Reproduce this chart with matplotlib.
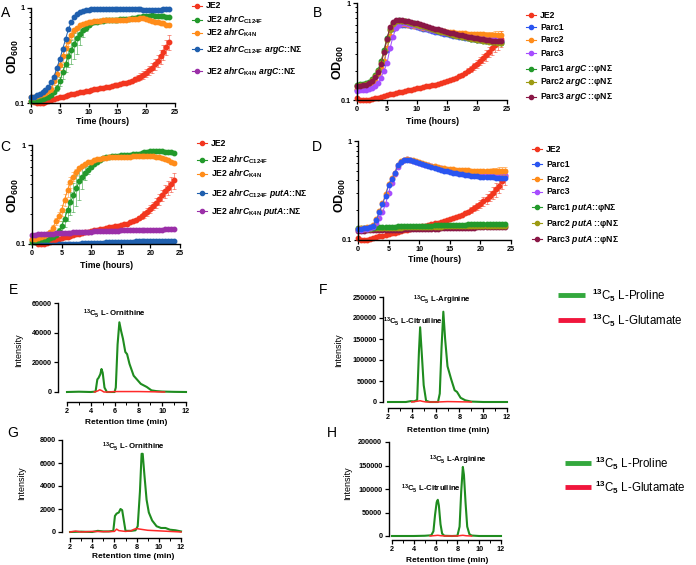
import numpy as np
import matplotlib
matplotlib.use("Agg")
import matplotlib.pyplot as plt
from matplotlib.lines import Line2D

plt.rcParams['font.family'] = ['Liberation Sans', 'DejaVu Sans']
plt.rcParams['font.weight'] = 'bold'
plt.rcParams['mathtext.fontset'] = 'custom'
plt.rcParams['mathtext.rm'] = 'Liberation Sans'
plt.rcParams['mathtext.it'] = 'Liberation Sans:italic'
plt.rcParams['mathtext.bf'] = 'Liberation Sans:bold'
plt.rcParams['mathtext.bfit'] = 'Liberation Sans:italic:bold'

# ---- growth curves (OD600, every 0.5 h) ----
t = np.arange(0, 24.5, 0.5)

je2_a = [0.105, 0.102, 0.100, 0.100, 0.101, 0.103, 0.105, 0.107, 0.110, 0.112,
         0.115, 0.117, 0.119, 0.121, 0.123, 0.125, 0.127, 0.129, 0.131, 0.133,
         0.135, 0.137, 0.139, 0.141, 0.143, 0.145, 0.147, 0.149, 0.151, 0.153,
         0.155, 0.158, 0.161, 0.164, 0.168, 0.172, 0.177, 0.183, 0.190, 0.198,
         0.208, 0.220, 0.235, 0.255, 0.280, 0.310, 0.345, 0.390, 0.440]
c124f_a = [0.105, 0.105, 0.106, 0.108, 0.110, 0.113, 0.117, 0.122, 0.130, 0.145,
           0.170, 0.210, 0.260, 0.310, 0.360, 0.420, 0.480, 0.530, 0.580, 0.620,
           0.660, 0.690, 0.710, 0.720, 0.730, 0.735, 0.740, 0.745, 0.750, 0.750,
           0.755, 0.760, 0.765, 0.770, 0.775, 0.780, 0.790, 0.800, 0.810, 0.820,
           0.830, 0.830, 0.835, 0.830, 0.830, 0.825, 0.820, 0.810, 0.800]
k4n_a = [0.115, 0.116, 0.118, 0.120, 0.123, 0.127, 0.133, 0.142, 0.170, 0.200,
         0.250, 0.310, 0.380, 0.450, 0.520, 0.580, 0.620, 0.660, 0.680, 0.700,
         0.710, 0.715, 0.725, 0.730, 0.735, 0.740, 0.740, 0.745, 0.745, 0.745,
         0.750, 0.750, 0.755, 0.755, 0.760, 0.765, 0.770, 0.775, 0.780, 0.780,
         0.770, 0.750, 0.730, 0.720, 0.710, 0.700, 0.690, 0.670, 0.660]
argc_c124f_a = [0.115, 0.117, 0.120, 0.124, 0.130, 0.137, 0.148, 0.165, 0.190, 0.235,
                0.290, 0.370, 0.470, 0.600, 0.710, 0.800, 0.860, 0.900, 0.930, 0.950,
                0.960, 0.965, 0.970, 0.970, 0.975, 0.975, 0.980, 0.980, 0.980, 0.980,
                0.980, 0.980, 0.975, 0.975, 0.970, 0.970, 0.970, 0.965, 0.965, 0.960,
                0.960, 0.960, 0.955, 0.955, 0.960, 0.960, 0.965, 0.970, 0.975]

je2_b = [0.105, 0.100, 0.099, 0.100, 0.101, 0.102, 0.104, 0.106, 0.108, 0.110,
         0.112, 0.114, 0.116, 0.118, 0.120, 0.122, 0.124, 0.126, 0.128, 0.130,
         0.132, 0.134, 0.136, 0.138, 0.140, 0.142, 0.144, 0.147, 0.150, 0.153,
         0.156, 0.160, 0.164, 0.169, 0.175, 0.182, 0.190, 0.200, 0.210, 0.222,
         0.236, 0.252, 0.270, 0.290, 0.315, 0.340, 0.370, 0.400, 0.430]
parc1_b = [0.128, 0.130, 0.132, 0.133, 0.135, 0.140, 0.155, 0.180, 0.210, 0.240,
           0.330, 0.450, 0.540, 0.580, 0.600, 0.600, 0.600, 0.595, 0.585, 0.575,
           0.565, 0.555, 0.545, 0.535, 0.525, 0.515, 0.505, 0.497, 0.489, 0.481,
           0.474, 0.467, 0.460, 0.454, 0.448, 0.442, 0.437, 0.432, 0.428, 0.424,
           0.420, 0.416, 0.413, 0.410, 0.407, 0.404, 0.402, 0.400, 0.398]
parc2_b = [0.130, 0.132, 0.134, 0.135, 0.137, 0.143, 0.158, 0.185, 0.215, 0.250,
           0.340, 0.460, 0.550, 0.590, 0.605, 0.605, 0.602, 0.597, 0.590, 0.582,
           0.574, 0.566, 0.558, 0.550, 0.543, 0.536, 0.530, 0.524, 0.518, 0.513,
           0.508, 0.503, 0.499, 0.495, 0.492, 0.489, 0.486, 0.483, 0.481, 0.479,
           0.477, 0.475, 0.474, 0.473, 0.472, 0.471, 0.470, 0.470, 0.470]
parc3_b = [0.125, 0.126, 0.127, 0.128, 0.130, 0.133, 0.140, 0.150, 0.170, 0.200,
           0.240, 0.340, 0.450, 0.550, 0.600, 0.615, 0.615, 0.610, 0.600, 0.590,
           0.580, 0.570, 0.560, 0.550, 0.540, 0.530, 0.520, 0.511, 0.502, 0.494,
           0.486, 0.478, 0.471, 0.464, 0.458, 0.452, 0.446, 0.441, 0.436, 0.432,
           0.428, 0.424, 0.421, 0.418, 0.415, 0.413, 0.411, 0.409, 0.408]
parc1_argc_b = [0.143, 0.145, 0.147, 0.149, 0.155, 0.165, 0.182, 0.205, 0.250, 0.330,
                0.440, 0.540, 0.620, 0.660, 0.665, 0.660, 0.650, 0.640, 0.628, 0.615,
                0.602, 0.590, 0.577, 0.565, 0.553, 0.541, 0.530, 0.519, 0.509, 0.499,
                0.490, 0.481, 0.472, 0.464, 0.456, 0.449, 0.442, 0.436, 0.430, 0.424,
                0.419, 0.414, 0.409, 0.405, 0.401, 0.398, 0.395, 0.392, 0.390]
parc2_argc_b = [0.140, 0.142, 0.144, 0.146, 0.151, 0.160, 0.175, 0.198, 0.240, 0.315,
                0.420, 0.525, 0.610, 0.650, 0.660, 0.655, 0.646, 0.636, 0.624, 0.611,
                0.598, 0.586, 0.573, 0.561, 0.549, 0.538, 0.527, 0.516, 0.506, 0.497,
                0.488, 0.479, 0.470, 0.462, 0.455, 0.448, 0.441, 0.435, 0.429, 0.423,
                0.418, 0.413, 0.408, 0.404, 0.400, 0.397, 0.394, 0.391, 0.389]
parc3_argc_b = [0.138, 0.140, 0.142, 0.144, 0.149, 0.158, 0.172, 0.195, 0.235, 0.310,
                0.430, 0.560, 0.640, 0.670, 0.672, 0.668, 0.660, 0.650, 0.639, 0.627,
                0.615, 0.603, 0.591, 0.579, 0.567, 0.556, 0.545, 0.534, 0.524, 0.514,
                0.505, 0.496, 0.487, 0.479, 0.471, 0.464, 0.457, 0.450, 0.444, 0.438,
                0.432, 0.427, 0.422, 0.418, 0.414, 0.410, 0.407, 0.404, 0.402]

je2_c = [0.110, 0.104, 0.100, 0.100, 0.101, 0.103, 0.105, 0.107, 0.109, 0.112,
         0.115, 0.117, 0.119, 0.121, 0.123, 0.125, 0.127, 0.129, 0.131, 0.133,
         0.135, 0.137, 0.139, 0.141, 0.143, 0.145, 0.147, 0.149, 0.151, 0.153,
         0.155, 0.158, 0.161, 0.165, 0.170, 0.176, 0.183, 0.191, 0.200, 0.212,
         0.226, 0.243, 0.262, 0.285, 0.310, 0.340, 0.370, 0.405, 0.440]
c124f_c = [0.105, 0.105, 0.106, 0.107, 0.109, 0.111, 0.114, 0.118, 0.124, 0.135,
           0.152, 0.180, 0.220, 0.265, 0.310, 0.370, 0.430, 0.480, 0.520, 0.560,
           0.600, 0.640, 0.680, 0.710, 0.740, 0.755, 0.765, 0.770, 0.775, 0.780,
           0.785, 0.790, 0.795, 0.800, 0.805, 0.810, 0.820, 0.830, 0.840, 0.850,
           0.860, 0.860, 0.865, 0.860, 0.860, 0.855, 0.850, 0.840, 0.830]
k4n_c = [0.112, 0.113, 0.115, 0.117, 0.120, 0.125, 0.132, 0.145, 0.170, 0.190,
         0.220, 0.280, 0.350, 0.420, 0.480, 0.530, 0.580, 0.620, 0.650, 0.670,
         0.680, 0.700, 0.715, 0.730, 0.740, 0.745, 0.750, 0.750, 0.755, 0.755,
         0.760, 0.760, 0.765, 0.765, 0.770, 0.770, 0.775, 0.775, 0.780, 0.780,
         0.780, 0.770, 0.760, 0.750, 0.740, 0.720, 0.700, 0.680, 0.660]
puta_c124f_c = [0.096, 0.096, 0.096, 0.097, 0.097, 0.097, 0.098, 0.098, 0.098, 0.099,
                0.100, 0.100, 0.100, 0.101, 0.101, 0.101, 0.101, 0.102, 0.102, 0.102,
                0.102, 0.103, 0.103, 0.103, 0.103, 0.104, 0.104, 0.104, 0.104, 0.104,
                0.105, 0.105, 0.105, 0.105, 0.105, 0.106, 0.106, 0.106, 0.106, 0.106,
                0.107, 0.107, 0.107, 0.107, 0.107, 0.108, 0.108, 0.108, 0.108]
puta_k4n_c = [0.124, 0.124, 0.125, 0.125, 0.126, 0.126, 0.127, 0.127, 0.128, 0.128,
              0.129, 0.129, 0.130, 0.130, 0.131, 0.131, 0.132, 0.132, 0.133, 0.133,
              0.133, 0.134, 0.134, 0.134, 0.135, 0.135, 0.135, 0.136, 0.136, 0.136,
              0.137, 0.137, 0.137, 0.138, 0.138, 0.138, 0.138, 0.139, 0.139, 0.139,
              0.139, 0.140, 0.140, 0.140, 0.140, 0.141, 0.141, 0.141, 0.141]

je2_d = [0.104, 0.101, 0.100, 0.101, 0.103, 0.105, 0.107, 0.109, 0.111, 0.113,
         0.115, 0.117, 0.119, 0.121, 0.123, 0.125, 0.127, 0.129, 0.131, 0.133,
         0.135, 0.137, 0.139, 0.141, 0.144, 0.147, 0.150, 0.153, 0.156, 0.159,
         0.162, 0.166, 0.170, 0.175, 0.180, 0.186, 0.193, 0.201, 0.210, 0.220,
         0.232, 0.246, 0.262, 0.280, 0.300, 0.325, 0.355, 0.395, 0.440]
parc1_d = [0.128, 0.130, 0.131, 0.132, 0.134, 0.140, 0.160, 0.190, 0.230, 0.280,
           0.360, 0.410, 0.470, 0.570, 0.620, 0.645, 0.650, 0.645, 0.630, 0.615,
           0.600, 0.585, 0.570, 0.555, 0.542, 0.530, 0.519, 0.509, 0.500, 0.492,
           0.485, 0.478, 0.471, 0.465, 0.459, 0.454, 0.449, 0.445, 0.441, 0.438,
           0.435, 0.433, 0.431, 0.429, 0.428, 0.427, 0.426, 0.425, 0.425]
parc2_d = [0.130, 0.132, 0.133, 0.134, 0.136, 0.142, 0.162, 0.195, 0.235, 0.290,
           0.370, 0.420, 0.480, 0.575, 0.625, 0.648, 0.652, 0.648, 0.636, 0.622,
           0.608, 0.595, 0.583, 0.572, 0.562, 0.553, 0.545, 0.538, 0.532, 0.527,
           0.522, 0.518, 0.514, 0.511, 0.508, 0.506, 0.504, 0.502, 0.501, 0.500,
           0.500, 0.500, 0.500, 0.500, 0.500, 0.500, 0.500, 0.500, 0.500]
parc3_d = [0.126, 0.127, 0.128, 0.129, 0.131, 0.136, 0.150, 0.165, 0.190, 0.230,
           0.300, 0.380, 0.460, 0.550, 0.610, 0.640, 0.655, 0.650, 0.635, 0.620,
           0.605, 0.591, 0.578, 0.566, 0.555, 0.545, 0.536, 0.528, 0.520, 0.513,
           0.506, 0.500, 0.494, 0.489, 0.484, 0.480, 0.476, 0.472, 0.469, 0.466,
           0.463, 0.461, 0.459, 0.457, 0.455, 0.454, 0.453, 0.452, 0.451]
parc1_puta_d = [0.131, 0.131, 0.132, 0.132, 0.133, 0.133, 0.134, 0.134, 0.135, 0.135,
                0.135, 0.136, 0.136, 0.137, 0.137, 0.137, 0.138, 0.138, 0.138, 0.139,
                0.139, 0.139, 0.140, 0.140, 0.140, 0.141, 0.141, 0.141, 0.142, 0.142,
                0.142, 0.142, 0.143, 0.143, 0.143, 0.143, 0.144, 0.144, 0.144, 0.144,
                0.145, 0.145, 0.145, 0.145, 0.145, 0.146, 0.146, 0.146, 0.146]
parc2_puta_d = [0.129, 0.129, 0.130, 0.130, 0.130, 0.131, 0.131, 0.131, 0.132, 0.132,
                0.132, 0.133, 0.133, 0.133, 0.133, 0.134, 0.134, 0.134, 0.134, 0.135,
                0.135, 0.135, 0.135, 0.136, 0.136, 0.136, 0.136, 0.136, 0.137, 0.137,
                0.137, 0.137, 0.137, 0.137, 0.138, 0.138, 0.138, 0.138, 0.138, 0.138,
                0.138, 0.139, 0.139, 0.139, 0.139, 0.139, 0.139, 0.139, 0.139]
parc3_puta_d = [0.124, 0.124, 0.124, 0.125, 0.125, 0.125, 0.125, 0.126, 0.126, 0.126,
                0.126, 0.127, 0.127, 0.127, 0.127, 0.128, 0.128, 0.128, 0.128, 0.129,
                0.129, 0.129, 0.129, 0.130, 0.130, 0.130, 0.130, 0.131, 0.131, 0.131,
                0.131, 0.132, 0.132, 0.132, 0.132, 0.133, 0.133, 0.133, 0.133, 0.134,
                0.134, 0.134, 0.134, 0.135, 0.135, 0.135, 0.135, 0.136, 0.136]

# error bars (SD)
je2_err = [0.0] * 34 + [0.005, 0.007, 0.010, 0.012, 0.015, 0.018, 0.020, 0.025,
                        0.030, 0.035, 0.040, 0.050, 0.060, 0.070, 0.080]
c124f_err = [0.0] * 9 + [0.010, 0.020, 0.030, 0.050, 0.070, 0.100, 0.130, 0.150,
                         0.120, 0.080, 0.050, 0.030] + [0.010] * 28
k4n_err = [0.0] * 6 + [0.005, 0.010, 0.015, 0.020, 0.030, 0.040, 0.050, 0.050,
                       0.050, 0.040, 0.030] + [0.010] * 22 + \
          [0.010, 0.020, 0.020, 0.030, 0.030, 0.030, 0.030, 0.030, 0.030, 0.030]
parc2_err = [0.0] * 40 + [0.010, 0.015, 0.020, 0.025, 0.030, 0.035, 0.040, 0.045, 0.050]

# ---- LC-MS traces ----
rt_e_pro = [2.0, 3.0, 4.0, 4.4, 4.55, 4.65, 4.8, 4.9, 5.0, 5.15, 5.35, 6.0, 6.1, 6.25,
            6.4, 6.55, 6.7, 6.9, 7.05, 7.25, 7.6, 8.2, 8.7, 9.1, 9.5, 10.0, 11.0, 12.0]
int_e_pro = [0, 200, 0, 300, 8500, 9500, 12000, 15500, 13000, 3000, 0, 0, 3000, 32000,
             47000, 41000, 36000, 27000, 25500, 19000, 11000, 5500, 3400, 1100, 600, 300, 100, 0]
rt_e_glu = [4.3, 4.6, 4.75, 4.9, 5.1, 5.5, 6.0, 8.0, 10.2]
int_e_glu = [0, 800, 1500, 1000, 0, 0, 300, 300, 0]

rt_f_pro = [2.0, 3.5, 3.9, 4.2, 4.45, 4.6, 4.7, 4.85, 5.0, 5.2, 5.5, 6.2, 6.35, 6.5,
            6.65, 6.8, 7.0, 7.3, 7.6, 7.8, 8.1, 8.5, 9.0, 10.0, 12.0]
int_f_pro = [0, 0, 2000, 1500, 5000, 120000, 178000, 110000, 40000, 3000, 0, 0, 20000,
             130000, 215000, 150000, 85000, 55000, 28000, 24000, 10000, 4000, 1000, 0, 0]
rt_f_glu = [4.0, 4.5, 4.7, 4.9, 5.2, 6.2, 7.0, 8.0, 9.0]
int_f_glu = [0, 2000, 3000, 1500, 0, 0, 1000, 500, 0]

rt_g_pro = [2.0, 3.0, 4.0, 4.5, 5.0, 5.5, 5.9, 6.05, 6.2, 6.4, 6.55, 6.7, 6.85, 7.0,
            7.5, 7.9, 8.1, 8.3, 8.45, 8.55, 8.7, 8.9, 9.1, 9.4, 9.8, 10.2, 10.6, 11.0,
            11.5, 12.0]
int_g_pro = [0, 30, 0, 100, 50, 50, 100, 1400, 1600, 1700, 2000, 1900, 1000, 100,
             100, 150, 500, 3500, 6800, 6800, 5000, 2800, 1700, 1000, 500, 350, 350, 200,
             150, 50]
rt_g_glu = [2.0, 2.5, 3.0, 4.0, 5.0, 6.0, 6.2, 6.4, 7.0, 7.5, 7.8, 8.0, 8.3, 9.0,
            10.0, 11.0, 12.0]
int_g_glu = [0, 80, 0, 50, 30, 50, 250, 120, 50, 100, 250, 300, 250, 150, 100, 50, 0]

rt_h_pro = [2.0, 4.0, 5.0, 5.6, 5.8, 5.95, 6.1, 6.2, 6.3, 6.45, 6.6, 6.8, 7.5, 8.0,
            8.2, 8.35, 8.5, 8.6, 8.75, 8.9, 9.1, 9.3, 10.0, 12.0]
int_h_pro = [0, 0, 500, 1500, 10000, 45000, 72000, 77000, 65000, 25000, 5000, 500, 0,
             500, 20000, 95000, 147000, 130000, 70000, 20000, 4000, 1000, 0, 0]
rt_h_glu = [5.5, 6.0, 6.2, 6.5, 7.0, 8.0, 8.3, 8.5, 8.8, 9.3]
int_h_glu = [0, 1000, 1500, 500, 0, 0, 1000, 1500, 500, 0]

# colours
RED = '#f2361f'
GREEN = '#23992b'
ORANGE = '#ff8c1a'
DBLUE = '#1f5fae'
PURPLE = '#9b2fa8'
BLUE = '#2a55f0'
VIOLET = '#a64dff'
OLIVE = '#9c9a12'
MAROON = '#8a1746'

W, H = 696, 565
fig = plt.figure(figsize=(W / 100, H / 100), dpi=100)


def fxy(x, y):
    return x / W, 1 - y / H


def axes_px(l, t_, r, b):
    return fig.add_axes([l / W, 1 - b / H, (r - l) / W, (b - t_) / H])


def style(ax, size):
    for s in ['top', 'right']:
        ax.spines[s].set_visible(False)
    for s in ['left', 'bottom']:
        ax.spines[s].set_linewidth(1.0)
    ax.tick_params(which='major', length=3, width=0.9, labelsize=size, pad=1.5)
    ax.tick_params(which='minor', length=1.8, width=0.7)


def growth(ax, series):
    for y, err, color, clip in series:
        y = np.array(y)
        ax.plot(t, y, '-o', color=color, ms=3.2, lw=0.7, clip_on=clip)
        if err is not None:
            err = np.array(err)
            m = err > 0
            ax.errorbar(t[m], y[m], yerr=err[m], fmt='none', ecolor=color,
                        elinewidth=0.6, capsize=1.4, capthick=0.6, alpha=0.6)
    ax.set_yscale('log')
    ax.set_ylim(0.1, 1)
    ax.set_xlim(0, 25)
    ax.set_yticks([0.1, 1], ['0.1', '1'])
    ax.set_yticks(np.arange(0.2, 1.0, 0.1), minor=True)
    ax.yaxis.set_minor_formatter(plt.NullFormatter())
    ax.set_xticks([0, 5, 10, 15, 20, 25])
    style(ax, 5.2)


def legend(xm, xt, rows):
    for y, label, color in rows:
        fx, fy = fxy(xm, y)
        fig.add_artist(Line2D([(xm - 5) / W, (xm + 5) / W], [fy, fy], color=color, lw=0.8))
        fig.add_artist(Line2D([fx], [fy], marker='o', ms=3.0, color=color))
        fig.text(xt / W, fy, label, fontsize=6.2, va='center', ha='left')


def chrom(ax, pro, glu, ymax, ystep, off_y, off_x):
    ax.plot(pro[0], pro[1], color='#1f8c1f', lw=1.5, clip_on=False)
    ax.plot(glu[0], glu[1], color='#ff2a2a', lw=1.1, clip_on=False)
    ax.set_xlim(2, 12)
    ax.set_ylim(0, ymax)
    ax.set_xticks(range(2, 13, 2))
    ax.set_xticks(range(3, 12, 2), minor=True)
    ax.set_yticks(range(0, ymax + 1, ystep), [str(v) for v in range(0, ymax + 1, ystep)])
    ax.spines['left'].set_position(('outward', off_y))
    ax.spines['bottom'].set_position(('outward', off_x))
    style(ax, 5.2)


def vlabel(x, y, s, **kw):
    fx, fy = fxy(x, y)
    fig.text(fx, fy, s, rotation=90, ha='center', va='center', **kw)


def hlabel(x, y, s, **kw):
    fx, fy = fxy(x, y)
    fig.text(fx, fy, s, ha='center', va='center', **kw)


od = 'OD$_{\\mathbf{600}}$'

# A
ax = axes_px(31, 8, 175, 103)
growth(ax, [(je2_a, je2_err, RED, False), (c124f_a, c124f_err, GREEN, False),
            (k4n_a, k4n_err, ORANGE, False), (argc_c124f_a, None, DBLUE, False)])
ax.plot([], [], '-o', color=PURPLE, ms=3.2, lw=0.7)
legend(197, 206, [(6, 'JE2', RED),
                  (20, r'JE2 $\mathbfit{ahrC}_{\mathbf{C124F}}$', GREEN),
                  (33, r'JE2 $\mathbfit{ahrC}_{\mathbf{K4N}}$', ORANGE),
                  (49, r'JE2 $\mathbfit{ahrC}_{\mathbf{C124F}}$ $\mathbfit{argC}$::NΣ', DBLUE),
                  (71, r'JE2 $\mathbfit{ahrC}_{\mathbf{K4N}}$ $\mathbfit{argC}$::NΣ', PURPLE)])
vlabel(13, 56, od, fontsize=9)
hlabel(103, 122, 'Time (hours)', fontsize=6.3)

# B
ax = axes_px(357, 3, 507, 100)
growth(ax, [(je2_b, je2_err, RED, False), (parc1_b, None, BLUE, False),
            (parc2_b, parc2_err, ORANGE, False), (parc3_b, None, VIOLET, False),
            (parc1_argc_b, None, GREEN, False), (parc2_argc_b, None, OLIVE, False),
            (parc3_argc_b, None, MAROON, False)])
legend(531, 540, [(15, 'JE2', RED), (27, 'Parc1', BLUE), (40, 'Parc2', ORANGE),
                  (53, 'Parc3', VIOLET),
                  (69, r'Parc1 $\mathbfit{argC}$ ::φNΣ', GREEN),
                  (82, r'Parc2 $\mathbfit{argC}$ ::φNΣ', OLIVE),
                  (97, r'Parc3 $\mathbfit{argC}$ ::φNΣ', MAROON)])
vlabel(338, 62, od, fontsize=9)
hlabel(433, 122, 'Time (hours)', fontsize=6.3)

# C
ax = axes_px(32, 145, 180, 244)
growth(ax, [(je2_c, je2_err, RED, False), (c124f_c, c124f_err, GREEN, False),
            (k4n_c, k4n_err, ORANGE, False), (puta_c124f_c, None, DBLUE, True),
            (puta_k4n_c, None, PURPLE, False)])
legend(202, 211, [(143, 'JE2', RED),
                  (160, r'JE2 $\mathbfit{ahrC}_{\mathbf{C124F}}$', GREEN),
                  (174, r'JE2 $\mathbfit{ahrC}_{\mathbf{K4N}}$', ORANGE),
                  (193, r'JE2 $\mathbfit{ahrC}_{\mathbf{C124F}}$ $\mathbfit{putA}$::NΣ', DBLUE),
                  (211, r'JE2 $\mathbfit{ahrC}_{\mathbf{K4N}}$ $\mathbfit{putA}$::NΣ', PURPLE)])
vlabel(13, 195, od, fontsize=9)
hlabel(107, 265, 'Time (hours)', fontsize=6.3)

# D
ax = axes_px(358, 141, 511, 240)
growth(ax, [(je2_d, je2_err, RED, False), (parc3_puta_d, None, MAROON, False),
            (parc2_puta_d, None, OLIVE, False), (parc1_puta_d, None, GREEN, False),
            (parc3_d, None, VIOLET, False), (parc2_d, parc2_err, ORANGE, False),
            (parc1_d, None, BLUE, False)])
legend(537, 546, [(149, 'JE2', RED), (164, 'Parc1', BLUE), (179, 'Parc2', ORANGE),
                  (192, 'Parc3', VIOLET),
                  (207, r'Parc1 $\mathbfit{putA}$::φNΣ', GREEN),
                  (223, r'Parc2 $\mathbfit{putA}$ ::φNΣ', OLIVE),
                  (239, r'Parc3 $\mathbfit{putA}$ ::φNΣ', MAROON)])
vlabel(340, 195, od, fontsize=9)
hlabel(435, 260, 'Time (hours)', fontsize=6.3)

# E-H chromatograms
c13 = r'$^{\mathbf{13}}\mathbf{C}_{\mathbf{5}}$'

ax = axes_px(67, 303, 186, 392)
chrom(ax, (rt_e_pro, int_e_pro), (rt_e_glu, int_e_glu), 60000, 20000, 6.5, 7)
ax.text(5.95, 53000, c13 + ' L- Ornithine', fontsize=5.6, ha='center', va='center')
vlabel(19, 350, 'Intensity', fontsize=6.5, fontweight='normal')
hlabel(126, 423, 'Retention time (min)', fontsize=6)

ax = axes_px(388, 297, 507, 402)
chrom(ax, (rt_f_pro, int_f_pro), (rt_f_glu, int_f_glu), 250000, 50000, 3.6, 4.3)
ax.text(6.5, 243000, c13 + ' L-Arginine', fontsize=5.6, ha='center', va='center')
ax.text(4.1, 192000, c13 + ' L-Citrulline', fontsize=5.6, ha='center', va='center')
vlabel(339, 350, 'Intensity', fontsize=6.5, fontweight='normal')
hlabel(448, 430, 'Retention time (min)', fontsize=6)

ax = axes_px(70, 440, 181, 532)
chrom(ax, (rt_g_pro, int_g_pro), (rt_g_glu, int_g_glu), 8000, 2000, 5.8, 4.3)
ax.text(7.7, 7400, c13 + ' L- Ornithine', fontsize=5.6, ha='center', va='center')
vlabel(22, 483, 'Intensity', fontsize=6.5, fontweight='normal')
hlabel(133, 557, 'Retention time (min)', fontsize=6)

ax = axes_px(392, 442, 501, 536)
chrom(ax, (rt_h_pro, int_h_pro), (rt_h_glu, int_h_glu), 200000, 50000, 2.5, 3)
ax.text(8.05, 161000, c13 + ' L-Arginine', fontsize=5.6, ha='center', va='center')
ax.text(5.6, 101000, c13 + ' L-Citrulline', fontsize=5.6, ha='center', va='center')
vlabel(348, 483, 'Intensity', fontsize=6.5, fontweight='normal')
hlabel(447, 561, 'Retention time (min)', fontsize=6)

# isotope legends
for x0, x1, xt, ys in [(558, 585, 592, (295, 320)), (565, 591, 595, (463, 487))]:
    for y, color, name in [(ys[0], '#33a83d', 'L-Proline'), (ys[1], '#f0163c', 'L-Glutamate')]:
        fy = 1 - y / H
        fig.add_artist(Line2D([x0 / W, x1 / W], [fy, fy], color=color, lw=3.5,
                              solid_capstyle='butt'))
        fig.text(xt / W, fy, r'$^{13}$C$_5$ ' + name, fontsize=8.3, fontweight='normal',
                 va='center', ha='left')

# panel letters
for letter, x, y in [('A', 6, 13), ('B', 317, 13), ('C', 5, 147), ('D', 317, 147),
                     ('E', 13, 290), ('F', 323, 290), ('G', 13, 433), ('H', 332, 433)]:
    fx, fy = fxy(x, y)
    fig.text(fx, fy, letter, fontsize=10, fontweight='normal', ha='center', va='center')

fig.savefig('out.png', dpi=100)
